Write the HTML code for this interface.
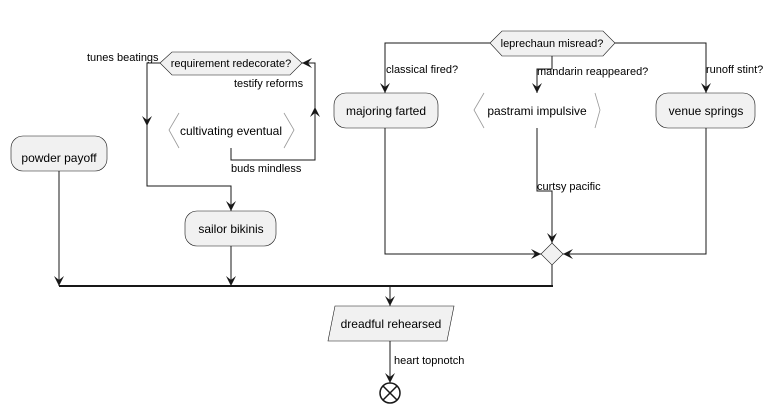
<!DOCTYPE html>
<html><head><meta charset="utf-8"><style>
html,body{margin:0;padding:0;background:#fff;}
svg{display:block;}
text{font-family:"Liberation Sans",sans-serif;fill:#000;}
.n{font-size:12px;text-anchor:middle;}
.l{font-size:11px;}
.s{fill:#f1f1f1;stroke:#181818;stroke-width:0.6;}
.e{fill:none;stroke:#181818;stroke-width:1;}
.a{fill:#181818;stroke:none;}
</style></head><body>
<svg width="775" height="413" viewBox="0 0 775 413" xmlns="http://www.w3.org/2000/svg">
<defs>
<path id="ad" d="M-5,-10 L0,0 L5,-10 L0,-6 Z"/>
</defs>
<!-- powder payoff -->
<rect class="s" x="11" y="136" width="96" height="35" rx="12"/>
<text class="n" x="59" y="162">powder payoff</text>
<path class="e" d="M59,171 V286"/>
<use href="#ad" class="a" transform="translate(59,286)"/>

<!-- requirement redecorate -->
<polygon class="s" points="160,63 172,52 290,52 302,63 290,75 172,75"/>
<text class="l" x="231" y="67" text-anchor="middle">requirement redecorate?</text>
<text class="l" x="87" y="61">tunes beatings</text>
<text class="l" x="234" y="87">testify reforms</text>
<path class="e" d="M160,63 H147 V186 H231 V211"/>
<use href="#ad" class="a" transform="translate(147,126)"/>
<use href="#ad" class="a" transform="translate(231,211)"/>

<!-- cultivating eventual -->
<path d="M179,113 L169,130 L179,148" fill="none" stroke="#999" stroke-width="0.8"/>
<path d="M284,113 L294,130 L284,148" fill="none" stroke="#999" stroke-width="0.8"/>
<text class="n" x="231" y="135">cultivating eventual</text>
<path class="e" d="M231,148 V160 H315 V63 H302"/>
<use href="#ad" class="a" transform="translate(315,107) rotate(180)"/>
<use href="#ad" class="a" transform="translate(302,63) rotate(90)"/>
<text class="l" x="231" y="172">buds mindless</text>

<!-- sailor bikinis -->
<rect class="s" x="185" y="211" width="91" height="35" rx="12"/>
<text class="n" x="231" y="233">sailor bikinis</text>
<path class="e" d="M231,246 V286"/>
<use href="#ad" class="a" transform="translate(231,286)"/>

<!-- bar -->
<rect x="59" y="285" width="494" height="2" fill="#181818"/>

<!-- leprechaun -->
<polygon class="s" points="490,43 502,31 603,31 615,43 603,56 502,56"/>
<text class="l" x="552" y="47" text-anchor="middle">leprechaun misread?</text>
<path class="e" d="M490,43 H385 V93"/>
<use href="#ad" class="a" transform="translate(385,93)"/>
<text class="l" x="386" y="73">classical fired?</text>
<path class="e" d="M552,56 V69 H537 V93"/>
<use href="#ad" class="a" transform="translate(537,93)"/>
<text class="l" x="537" y="75">mandarin reappeared?</text>
<path class="e" d="M615,43 H706 V93"/>
<use href="#ad" class="a" transform="translate(706,93)"/>
<text class="l" x="706" y="73">runoff stint?</text>

<rect class="s" x="334" y="93" width="104" height="35" rx="12"/>
<text class="n" x="386" y="115">majoring farted</text>
<path d="M484,93 L474,110 L484,128" fill="none" stroke="#999" stroke-width="0.8"/>
<path d="M595,93 L600,110 L595,128" fill="none" stroke="#999" stroke-width="0.8"/>
<text class="n" x="537" y="115">pastrami impulsive</text>
<rect class="s" x="656" y="93" width="99" height="35" rx="12"/>
<text class="n" x="706" y="115">venue springs</text>

<path class="e" d="M385,128 V254 H541"/>
<use href="#ad" class="a" transform="translate(541,254) rotate(-90)"/>
<path class="e" d="M537,128 V191 H552 V243"/>
<use href="#ad" class="a" transform="translate(552,243)"/>
<text class="l" x="537" y="190">curtsy pacific</text>
<path class="e" d="M706,128 V254 H563"/>
<use href="#ad" class="a" transform="translate(563,254) rotate(90)"/>
<polygon class="s" points="552,243 563,254 552,265 541,254"/>
<path class="e" d="M552,265 V286"/>

<!-- dreadful -->
<path class="e" d="M390,286 V306"/>
<use href="#ad" class="a" transform="translate(390,306)"/>
<polygon class="s" points="335,306 454,306 447,341 328,341"/>
<text class="n" x="391" y="328">dreadful rehearsed</text>
<path class="e" d="M390,341 V383"/>
<use href="#ad" class="a" transform="translate(390,383)"/>
<text class="l" x="394" y="364">heart topnotch</text>
<circle cx="390" cy="393" r="10" fill="#fff" stroke="#181818" stroke-width="1.5"/>
<path d="M383,386 L397,400 M397,386 L383,400" stroke="#181818" stroke-width="1.5"/>
</svg>
</body></html>
